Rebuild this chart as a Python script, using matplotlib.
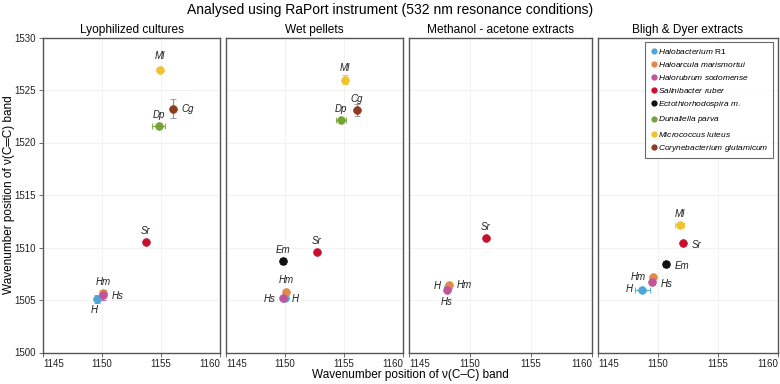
import matplotlib
matplotlib.use("Agg")
import matplotlib.pyplot as plt
from matplotlib.lines import Line2D
from matplotlib import font_manager

plt.rcParams['font.family'] = ['Liberation Sans', 'DejaVu Sans']
plt.rcParams['mathtext.fontset'] = 'custom'
plt.rcParams['mathtext.it'] = 'Liberation Sans:italic'
plt.rcParams['mathtext.rm'] = 'Liberation Sans'

_installed = {f.name for f in font_manager.fontManager.ttflist}
if 'Liberation Sans Narrow' in _installed:
    TITLE_FONT = ['Liberation Sans Narrow', 'DejaVu Sans']
    TS, STS = 11.9, 10.3
else:
    TITLE_FONT = ['Liberation Sans', 'DejaVu Sans']
    TS, STS = 10.0, 8.6

# ---------------- data ----------------
panel_titles = ["Lyophilized cultures", "Wet pellets",
                "Methanol - acetone extracts", "Bligh & Dyer extracts"]

species_codes = ["H", "Hm", "Hs", "Sr", "Em", "Dp", "Ml", "Cg"]
species_names = [r"$\mathit{Halobacterium}$ R1",
                 r"$\mathit{Haloarcula\ marismortui}$",
                 r"$\mathit{Halorubrum\ sodomense}$",
                 r"$\mathit{Salinibacter\ ruber}$",
                 r"$\mathit{Ectothiorhodospira\ m.}$",
                 r"$\mathit{Dunaliella\ parva}$",
                 r"$\mathit{Micrococcus\ luteus}$",
                 r"$\mathit{Corynebacterium\ glutamicum}$"]
species_colors = ["#4ea6d6", "#e0894a", "#c0559c", "#c8102e",
                  "#111111", "#77a23a", "#f0c22e", "#8e3b1f"]

# Lyophilized cultures
codes1 = ["H", "Hm", "Hs", "Sr", "Dp", "Ml", "Cg"]
x1 = [1149.6, 1150.1, 1150.1, 1153.7, 1154.8, 1154.9, 1156.0]
y1 = [1505.1, 1505.7, 1505.5, 1510.5, 1521.6, 1526.9, 1523.2]
xe1 = [0.0, 0.0, 0.0, 0.0, 0.55, 0.0, 0.0]
ye1 = [0.4, 0.3, 0.5, 0.0, 0.0, 0.0, 0.9]

# Wet pellets
codes2 = ["H", "Hm", "Hs", "Sr", "Em", "Dp", "Ml", "Cg"]
x2 = [1150.0, 1150.1, 1149.8, 1152.7, 1149.8, 1154.75, 1155.1, 1156.1]
y2 = [1505.2, 1505.8, 1505.2, 1509.6, 1508.7, 1522.1, 1526.0, 1523.1]
xe2 = [0.0, 0.0, 0.0, 0.0, 0.0, 0.4, 0.0, 0.0]
ye2 = [0.0, 0.2, 0.0, 0.0, 0.3, 0.0, 0.4, 0.6]

# Methanol - acetone extracts
codes3 = ["H", "Hm", "Hs", "Sr"]
x3 = [1148.2, 1148.3, 1148.1, 1151.3]
y3 = [1506.2, 1506.4, 1506.0, 1510.9]
xe3 = [0.0, 0.0, 0.0, 0.0]
ye3 = [0.0, 0.0, 0.0, 0.0]

# Bligh & Dyer extracts
codes4 = ["H", "Hm", "Hs", "Sr", "Em", "Ml"]
x4 = [1148.7, 1149.6, 1149.5, 1152.1, 1150.7, 1151.8]
y4 = [1506.0, 1507.2, 1506.7, 1510.4, 1508.4, 1512.1]
xe4 = [0.6, 0.0, 0.0, 0.0, 0.0, 0.35]
ye4 = [0.0, 0.0, 0.3, 0.0, 0.3, 0.0]

# label offsets (points) per panel and code: (dx, dy, ha)
offsets = [
    {"H": (-2, -8, "center"), "Hm": (0, 8, "center"), "Hs": (6, -1, "left"),
     "Sr": (0, 8, "center"), "Dp": (0, 8, "center"), "Ml": (0, 10, "center"),
     "Cg": (6, 0, "left")},
    {"H": (5, -1, "left"), "Hm": (0, 8, "center"), "Hs": (-5, -1, "right"),
     "Sr": (0, 8, "center"), "Em": (0, 8, "center"), "Dp": (0, 8, "center"),
     "Ml": (0, 8, "center"), "Cg": (0, 8, "center")},
    {"H": (-5, 1, "right"), "Hm": (5, 0, "left"), "Hs": (0, -9, "center"),
     "Sr": (0, 8, "center")},
    {"H": (-7, 0, "right"), "Hm": (-5, 0, "right"), "Hs": (6, -1, "left"),
     "Sr": (6, -1, "left"), "Em": (6, -1, "left"), "Ml": (0, 8, "center")},
]

panels = [(codes1, x1, y1, xe1, ye1), (codes2, x2, y2, xe2, ye2),
          (codes3, x3, y3, xe3, ye3), (codes4, x4, y4, xe4, ye4)]

# ---------------- figure ----------------
fig = plt.figure(figsize=(7.8, 3.84), dpi=100)
W, H = 780, 384
lefts = [43, 226, 409, 598]
widths = [177, 177, 183, 180]
top, bottom = 37.5, 352.5

color_of = dict(zip(species_codes, species_colors))
axes = []
for i, (codes, xs, ys, xes, yes) in enumerate(panels):
    ax = fig.add_axes([lefts[i] / W, 1 - bottom / H, widths[i] / W, (bottom - top) / H])
    axes.append(ax)
    ax.set_xlim(1145, 1160)
    ax.set_ylim(1500, 1530)
    ax.set_xticks([1145, 1150, 1155, 1160])
    ax.set_yticks([1500, 1505, 1510, 1515, 1520, 1525, 1530])
    ax.grid(True, color="#f0f0f0", linewidth=0.6)
    ax.set_axisbelow(True)
    for s in ax.spines.values():
        s.set_color("#555555")
        s.set_linewidth(1.0)
    ax.tick_params(axis="both", labelsize=7, length=3, width=0.6,
                   colors="#555555", labelcolor="#222222", pad=2)
    if i > 0:
        ax.tick_params(axis="y", left=False, labelleft=False)
    labels = ax.get_xticklabels()
    labels[0].set_horizontalalignment("left")
    labels[-1].set_horizontalalignment("right")
    ax.set_title(panel_titles[i], fontsize=STS, pad=3, family=TITLE_FONT)

    for c, xv, yv, xe, ye in zip(codes, xs, ys, xes, yes):
        col = color_of[c]
        ecol = "#8a8f9a" if c == "Cg" else col
        ax.errorbar(xv, yv, xerr=xe if xe > 0 else None,
                    yerr=ye if ye > 0 else None, fmt="o", color=col,
                    markersize=5.5, markeredgewidth=0.6,
                    markeredgecolor=col, ecolor=ecol, elinewidth=0.8,
                    capsize=2, capthick=0.8, zorder=3)
        dx, dy, ha = offsets[i][c]
        ax.annotate(c, (xv, yv), xytext=(dx, dy), textcoords="offset points",
                    ha=ha, va="center", fontsize=7, style="italic",
                    color="#222222")

handles = [Line2D([], [], marker="o", linestyle="none", color=c, markersize=3.5)
           for c in species_colors]
leg = axes[3].legend(handles, species_names, loc="upper right", fontsize=6.0,
                     frameon=True, fancybox=False, edgecolor="#444444",
                     borderaxespad=0.6, handletextpad=0.05, handlelength=1.0,
                     labelspacing=0.5, borderpad=0.5)
leg.get_frame().set_linewidth(0.8)

fig.text(0.5, 0.992, "Analysed using RaPort instrument (532 nm resonance conditions)",
         ha="center", va="top", fontsize=TS, family=TITLE_FONT)
fig.text(410 / W, 0.008, "Wavenumber position of \u03bd(C\u2013C) band",
         ha="center", va="bottom", fontsize=8.5)
fig.text(0.004, (1 - (top + bottom) / 2 / H), "Wavenumber position of \u03bd(C\u2550C) band",
         ha="left", va="center", rotation=90, fontsize=8.5)

fig.savefig("out.png", dpi=100)
